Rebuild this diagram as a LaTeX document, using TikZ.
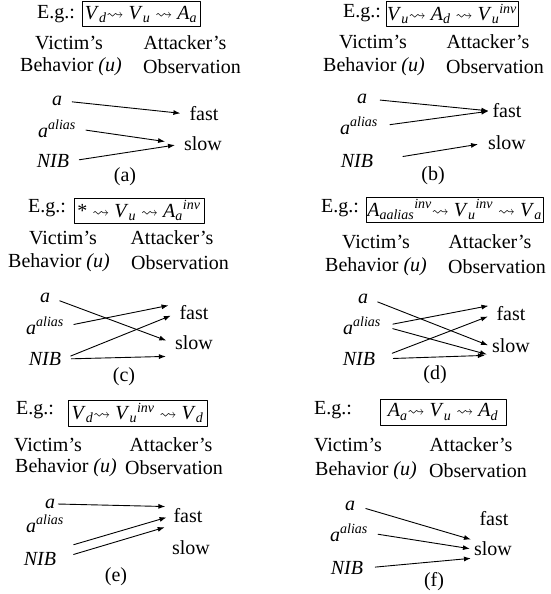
\documentclass[tikz,border=0pt]{standalone}
\usepackage{fontspec}
\setmainfont{Liberation Serif}
\usepackage{amssymb}
\usetikzlibrary{arrows.meta}
\newcommand{\wave}{{\fontsize{17}{17}\selectfont$\rightsquigarrow$}}
\newcommand{\aAlias}{\textit{a}\textsuperscript{\textit{alias}}}
\newcommand{\vsub}[2]{\textit{#1}\textsubscript{\textit{#2}}}
\begin{document}
\begin{tikzpicture}[x=1pt,y=-1pt,>={Latex[length=7pt,width=5pt]},line cap=round,line join=round]
\useasboundingbox (0,0) rectangle (550,594);
\tikzset{lbl/.style={inner sep=2pt,font=\fontsize{20}{24}\selectfont},ex/.style={lbl,draw=black,line width=1pt,inner sep=1pt,minimum height=25pt},arr/.style={draw=black,line width=0.9pt,->,shorten <=8pt,shorten >=7pt}}
\node[lbl] (egA) at (56,14) {E.g.:};
\node[ex,minimum width=118pt] (seqA) at (141,14.5) {\vsub{V}{d}\wave{} \vsub{V}{u} \wave{} \vsub{A}{a}};
\node[lbl] (vicA) at (69,43) {Victim's};
\node[lbl] (attA) at (185,43) {Attacker's};
\node[lbl] (behA) at (71,67) {Behavior \textit{(u)}};
\node[lbl] (obsA) at (192,67) {Observation};
\node[lbl] (aA) at (57,101) {\textit{a}};
\node[lbl] (alsA) at (57,129) {\aAlias};
\node[lbl] (nibA) at (53,161) {\textit{NIB}};
\node[lbl] (fastA) at (204,114) {fast};
\node[lbl] (slowA) at (203,144) {slow};
\node[lbl] (capA) at (125,177) {(a)};
\draw[arr] (aA.east) -- (fastA.west);
\draw[arr,shorten >=17pt] (alsA.east) -- (slowA.west);
\draw[arr] (nibA.east) -- (slowA.west);
\node[lbl] (egB) at (362,13) {E.g.:};
\node[ex,minimum width=132pt] (seqB) at (452,14) {\vsub{V}{u}\wave{} \vsub{A}{d} \wave{} \vsub{V}{u}\textsuperscript{\textit{inv}}};
\node[lbl] (vicB) at (373,42) {Victim's};
\node[lbl] (attB) at (488,42) {Attacker's};
\node[lbl] (behB) at (374,67) {Behavior \textit{(u)}};
\node[lbl] (obsB) at (495,67) {Observation};
\node[lbl] (aB) at (362,99) {\textit{a}};
\node[lbl] (alsB) at (359,126) {\aAlias};
\node[lbl] (nibB) at (357,161) {\textit{NIB}};
\node[lbl] (fastB) at (507,111) {fast};
\node[lbl] (slowB) at (507,143) {slow};
\node[lbl] (capB) at (433,176) {(b)};
\draw[arr,shorten <=11pt,shorten >=2pt] (aB.east) -- (fastB.west);
\draw[arr,shorten <=10pt,shorten >=2pt] (alsB.east) -- (fastB.west);
\draw[arr,shorten <=28pt,shorten >=8pt] (nibB.east) -- (slowB.west);
\node[lbl] (egC) at (47,208) {E.g.:};
\node[ex,minimum width=130pt] (seqC) at (139,210.5) {* \wave{} \vsub{V}{u} \wave{} \vsub{A}{a}\textsuperscript{\textit{inv}}};
\node[lbl] (vicC) at (63,238) {Victim's};
\node[lbl] (attC) at (172,238) {Attacker's};
\node[lbl] (behC) at (59,263) {Behavior \textit{(u)}};
\node[lbl] (obsC) at (180,263) {Observation};
\node[lbl] (aC) at (45,298) {\textit{a}};
\node[lbl] (alsC) at (45,326) {\aAlias};
\node[lbl] (nibC) at (45,359) {\textit{NIB}};
\node[lbl] (fastC) at (194,313) {fast};
\node[lbl] (slowC) at (194,343) {slow};
\node[lbl] (capC) at (124,377) {(c)};
\draw[arr] (aC.east) -- (slowC.west);
\draw[arr,shorten >=9pt] (alsC.east) -- (fastC.north west);
\draw[arr] (nibC.east) -- (fastC.west);
\draw[arr] (nibC.east) -- ([yshift=-4pt]slowC.south west);
\node[lbl] (egD) at (340,208) {E.g.:};
\node[ex,minimum width=177pt] (seqD) at (454.5,209.5) {\vsub{A}{aalias}\textsuperscript{\textit{inv}}\wave{} \vsub{V}{u}\textsuperscript{\textit{inv}} \wave{} \vsub{V}{a}};
\node[lbl] (vicD) at (376,242) {Victim's};
\node[lbl] (attD) at (490,242) {Attacker's};
\node[lbl] (behD) at (376,267) {Behavior \textit{(u)}};
\node[lbl] (obsD) at (497,267) {Observation};
\node[lbl] (aD) at (363,299) {\textit{a}};
\node[lbl] (alsD) at (362,326) {\aAlias};
\node[lbl] (nibD) at (359,359) {\textit{NIB}};
\node[lbl] (fastD) at (511,314) {fast};
\node[lbl] (slowD) at (511,346) {slow};
\node[lbl] (capD) at (435,375) {(d)};
\draw[arr,shorten >=2pt] (aD.east) -- (slowD.west);
\draw[arr,shorten <=10pt,shorten >=6pt] (alsD.east) -- (fastD.north west);
\draw[arr,shorten <=10pt,shorten >=3pt] (alsD.east) -- (slowD.south west);
\draw[arr,shorten <=16pt] (nibD.east) -- (fastD.west);
\draw[arr,shorten <=16pt,shorten >=5pt] (nibD.east) -- (slowD.south west);
\node[lbl] (egE) at (35,410) {E.g.:};
\node[ex,minimum width=139pt,minimum height=26pt] (seqE) at (137.5,413) {\vsub{V}{d}\wave{} \vsub{V}{u}\textsuperscript{\textit{inv}} \wave{} \vsub{V}{d}};
\node[lbl] (vicE) at (48,445) {Victim's};
\node[lbl] (attE) at (171,445) {Attacker's};
\node[lbl] (behE) at (66,468) {Behavior \textit{(u)}};
\node[lbl] (obsE) at (174,468) {Observation};
\node[lbl] (aE) at (50,504) {\textit{a}};
\node[lbl] (alsE) at (45,524) {\aAlias};
\node[lbl] (nibE) at (40,559) {\textit{NIB}};
\node[lbl] (fastE) at (188,516) {fast};
\node[lbl] (slowE) at (191,548) {slow};
\node[lbl] (capE) at (116,577) {(e)};
\draw[arr,shorten <=1pt,shorten >=6pt] (aE.east) -- (fastE.north west);
\draw[arr,shorten >=5pt] ([yshift=-12pt]alsE.south east) -- (fastE.west);
\draw[arr,shorten <=16pt] (nibE.east) -- (fastE.south west);
\node[lbl] (egF) at (333,410) {E.g.:};
\node[ex,minimum width=126pt,minimum height=26pt] (seqF) at (443,412) {\vsub{A}{a}\wave{} \vsub{V}{u} \wave{} \vsub{A}{d}};
\node[lbl] (vicF) at (348,445) {Victim's};
\node[lbl] (attF) at (471,445) {Attacker's};
\node[lbl] (behF) at (366,471) {Behavior \textit{(u)}};
\node[lbl] (obsF) at (478,471) {Observation};
\node[lbl] (aF) at (350,506) {\textit{a}};
\node[lbl] (alsF) at (349,533) {\aAlias};
\node[lbl] (nibF) at (347,568) {\textit{NIB}};
\node[lbl] (fastF) at (494,519) {fast};
\node[lbl] (slowF) at (493,549) {slow};
\node[lbl] (capF) at (434,582) {(f)};
\draw[arr,shorten <=9pt,shorten >=1pt] (aF.east) -- (slowF.north west);
\draw[arr,shorten >=2pt] (alsF.east) -- (slowF.west);
\draw[arr,shorten <=10pt,shorten >=1pt] (nibF.east) -- (slowF.south west);
\end{tikzpicture}
\end{document}
